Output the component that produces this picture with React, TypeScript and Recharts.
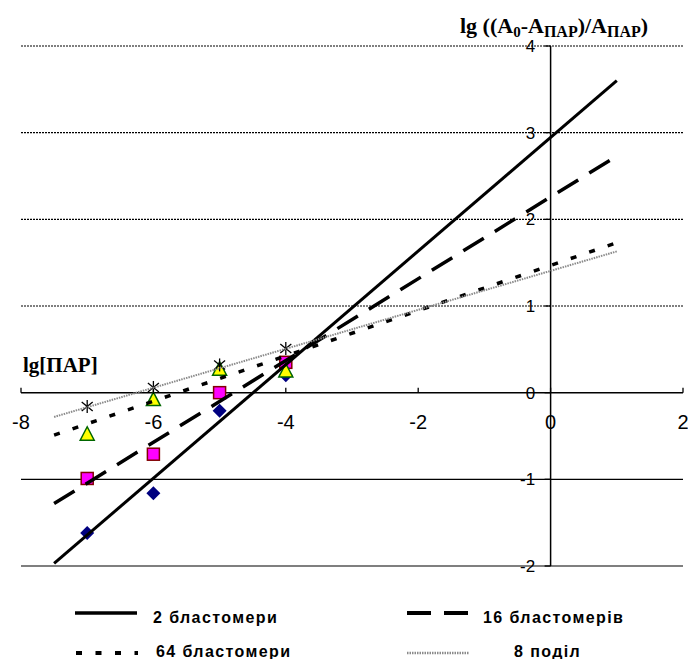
import React from "react";
import {
  ComposedChart,
  Line,
  ReferenceLine,
  Scatter,
  XAxis,
  YAxis,
} from "recharts";

// axis ticks
const xTicks = [-8, -6, -4, -2, 0, 2];
const yTicks = [-2, -1, 0, 1, 2, 3, 4];

// measured points, lg[ПАР]
const doses = [-7, -6, -5, -4];
const blast2 = [-1.62, -1.16, -0.21, 0.2];
const blast16 = [-0.99, -0.71, 0.0, 0.35];
const blast64 = [-0.48, -0.08, 0.27, 0.25];
const div8 = [-0.16, 0.06, 0.32, 0.51];

// trend line ends
const trendX = [-7.5, 1];
const trend2 = [-1.97, 3.6];
const trend16 = [-1.28, 2.73];
const trend64 = [-0.49, 1.73];
const trend8 = [-0.28, 1.63];

const W = 688;
const H = 659;
const SANS = "'Liberation Sans', Arial, sans-serif";
const SERIF = "'Liberation Serif', 'Times New Roman', serif";

type Kind = "diamond" | "square" | "triangle" | "star";

const series = [
  { name: "2 бластомери", values: blast2, trend: trend2, stroke: "#000", width: 3, dash: undefined, marker: "diamond" as Kind },
  { name: "16 бластомерів", values: blast16, trend: trend16, stroke: "#000", width: 3.5, dash: "24 13", marker: "square" as Kind },
  { name: "64 бластомери", values: blast64, trend: trend64, stroke: "#000", width: 3.5, dash: "6 13.5", marker: "triangle" as Kind },
  { name: "8 поділ", values: div8, trend: trend8, stroke: "#8a8a8a", width: 2, dash: "1.5 1", marker: "star" as Kind },
];

// legend slots: line start x, line y, text x, text baseline
const legendSlots = [
  { x: 75, y: 613, tx: 153, ty: 623 },
  { x: 407, y: 613, tx: 483, ty: 623 },
  { x: 76, y: 653, tx: 156, ty: 656.5 },
  { x: 407, y: 653, tx: 514, ty: 656.5 },
];

function Marker({ cx, cy, kind }: { cx: number; cy: number; kind: Kind }) {
  if (cx == null || cy == null) return null;
  switch (kind) {
    case "diamond":
      return (
        <polygon
          points={`${cx},${cy - 7} ${cx + 7},${cy} ${cx},${cy + 7} ${cx - 7},${cy}`}
          fill="#000080"
        />
      );
    case "square":
      return (
        <rect x={cx - 6} y={cy - 6} width={12} height={12} fill="#ff00ff" stroke="#800000" strokeWidth={1.5} />
      );
    case "triangle":
      return (
        <polygon
          points={`${cx},${cy - 7.5} ${cx + 7},${cy + 6} ${cx - 7},${cy + 6}`}
          fill="#ffff00"
          stroke="#006600"
          strokeWidth={1.5}
        />
      );
    default:
      return (
        <g stroke="#000" strokeWidth={1.3}>
          <line x1={cx} y1={cy - 6.5} x2={cx} y2={cy + 6.5} />
          <line x1={cx - 5.5} y1={cy - 4.5} x2={cx + 5.5} y2={cy + 4.5} />
          <line x1={cx - 5.5} y1={cy + 4.5} x2={cx + 5.5} y2={cy - 4.5} />
        </g>
      );
  }
}

function XTick(props: any) {
  const { cx, cy, payload } = props;
  if (cx == null) return null;
  return (
    <g>
      <line x1={cx} x2={cx} y1={cy - 5} y2={cy} stroke="#000" strokeWidth={1.3} />
      <text x={cx} y={cy + 36.5} textAnchor="middle" fontFamily={SANS} fontSize={20} fill="#000">
        {payload.x}
      </text>
    </g>
  );
}

function YTick(props: any) {
  const { cx, cy, payload } = props;
  if (cx == null) return null;
  return (
    <g>
      <line x1={cx - 6} x2={cx} y1={cy} y2={cy} stroke="#000" strokeWidth={1.3} />
      <text x={cx - 15.5} y={cy + 6} textAnchor="end" fontFamily={SANS} fontSize={17} fill="#000">
        {payload.y}
      </text>
    </g>
  );
}

export default function App() {
  const xTickData = xTicks.map((x) => ({ x, y: 0 }));
  const yTickData = yTicks.map((y) => ({ x: 0, y }));

  return (
    <div style={{ position: "absolute", left: 0, top: 0, width: W, height: H, background: "#fff" }}>
      <ComposedChart width={W} height={H} margin={{ top: 46, right: 5, bottom: 93, left: 21 }}>
        <XAxis type="number" dataKey="x" domain={[-8, 2]} hide />
        <YAxis type="number" dataKey="y" domain={[-2, 4]} hide />
        {yTicks
          .filter((v) => v !== 0)
          .map((v) => (
            <ReferenceLine
              key={v}
              y={v}
              stroke="#000"
              strokeWidth={1.2}
              strokeDasharray={v > 0 ? "2 1" : undefined}
            />
          ))}
        <ReferenceLine y={0} stroke="#000" strokeWidth={1.5} />
        <ReferenceLine x={0} stroke="#000" strokeWidth={1.5} />
        <Scatter data={xTickData} dataKey="y" isAnimationActive={false} shape={(p: any) => <XTick {...p} />} />
        <Scatter data={yTickData} dataKey="y" isAnimationActive={false} shape={(p: any) => <YTick {...p} />} />
        {series.map((s) => (
          <Scatter
            key={s.name + "-pts"}
            name={s.name}
            data={doses.map((x, i) => ({ x, y: s.values[i] }))}
            dataKey="y"
            isAnimationActive={false}
            shape={(p: any) => <Marker cx={p.cx} cy={p.cy} kind={s.marker} />}
          />
        ))}
        {series.map((s) => (
          <Line
            key={s.name + "-trend"}
            data={trendX.map((x, i) => ({ x, y: s.trend[i] }))}
            dataKey="y"
            type="linear"
            stroke={s.stroke}
            strokeWidth={s.width}
            strokeDasharray={s.dash}
            dot={false}
            activeDot={false}
            isAnimationActive={false}
            zIndex={700}
          />
        ))}
      </ComposedChart>
      <svg width={W} height={H} style={{ position: "absolute", left: 0, top: 0, pointerEvents: "none" }}>
        <text x={460} y={33} fontFamily={SERIF} fontWeight="bold" fontSize={22} fill="#000">
          lg ((A
          <tspan fontSize={15} dy={4}>0</tspan>
          <tspan dy={-4}>-A</tspan>
          <tspan fontSize={16} dy={4}>ПАР</tspan>
          <tspan dy={-4}>)/A</tspan>
          <tspan fontSize={16} dy={4}>ПАР</tspan>
          <tspan dy={-4}>)</tspan>
        </text>
        <text x={23} y={371.5} fontFamily={SERIF} fontWeight="bold" fontSize={21} fill="#000">
          lg[ПАР]
        </text>
        {series.map((s, i) => {
          const slot = legendSlots[i];
          return (
            <g key={s.name}>
              <line
                x1={slot.x}
                x2={slot.x + 62}
                y1={slot.y}
                y2={slot.y}
                stroke={s.stroke}
                strokeWidth={s.width + 0.5}
                strokeDasharray={s.dash}
              />
              <text
                x={slot.tx}
                y={slot.ty}
                fontFamily={SANS}
                fontWeight="bold"
                fontSize={16}
                letterSpacing={1.4}
                fill="#000"
              >
                {s.name}
              </text>
            </g>
          );
        })}
      </svg>
    </div>
  );
}
